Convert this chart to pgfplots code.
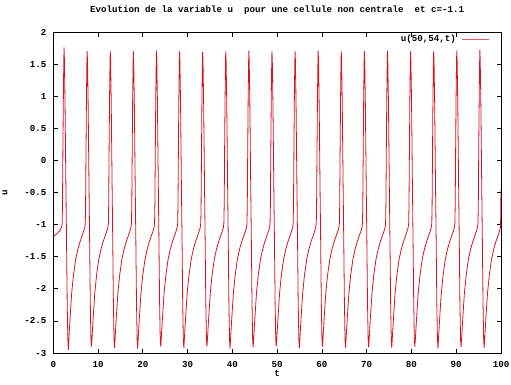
\documentclass[border=0pt]{standalone}
\usepackage{fontspec}
\setmainfont{Liberation Mono}
\usepackage{pgfplots}
\pgfplotsset{compat=1.18}
\definecolor{gpred}{RGB}{215,20,30}
\newcommand{\gpfont}{\fontsize{9.2}{11}\selectfont\bfseries}
\begin{document}
\begin{tikzpicture}[font=\gpfont]
\path[use as bounding box] (-53.3bp,-32bp) rectangle (457.7bp,353bp);
\begin{axis}[
    at={(0,0)}, anchor=south west,
    scale only axis,
    width=447.7bp, height=321bp,
    xmin=0, xmax=100, ymin=-3, ymax=2,
    xtick distance=10, ytick distance=0.5,
    axis line style={line width=0.8bp},
    tick style={black, line width=0.7bp},
    major tick length=4.5bp,
    tick align=inside,
    /pgf/number format/assume math mode=true,
    /pgf/number format/fixed,
    xticklabel style={anchor=center, inner sep=0pt, yshift=-11bp},
    yticklabel style={anchor=east, inner sep=0pt, xshift=-6.6bp},
    title={Evolution de la variable u\ \ pour une cellule non centrale\ \ et c=-1.1},
    title style={at={(rel axis cs:0.5,1)}, anchor=center, inner sep=0pt, yshift=16bp},
    xlabel={t},
    xlabel style={at={(rel axis cs:0.5,0)}, anchor=center, inner sep=0pt, yshift=-20bp},
    ylabel={u},
    ylabel style={at={(rel axis cs:0,0.5)}, anchor=center, inner sep=0pt, yshift=48.3bp},
    legend plot pos=right,
    legend style={draw=none, fill=none, at={(rel axis cs:1,1)}, anchor=north east,
        xshift=-11bp, yshift=-3bp, inner sep=0pt, nodes={inner sep=0pt, anchor=east}},
    legend image code/.code={\path (0bp,0bp); \draw[#1, line width=1.2bp, draw=gpred!70] (6bp,0bp) -- (33bp,0bp);},
]
\addplot[gpred, line width=0.8bp] coordinates {
(0,-1.19) (0.5,-1.16) (1.0,-1.13) (1.5,-1.09) (1.85,-1.04) (1.98,-0.98) (2.05,-0.70) (2.15,0.20) (2.25,1.00) (2.35,1.58) (2.40,1.76) (2.48,1.58) (2.62,0.90) (2.80,-0.30) (2.95,-1.20) (3.10,-2.20) (3.25,-2.80) (3.36,-2.95) (3.50,-2.75) (3.75,-2.45) (4.10,-2.07) (4.50,-1.79) (5.00,-1.54) (5.50,-1.38) (6.00,-1.26) (6.40,-1.18) (6.75,-1.11)
(7.01,-1.05) (7.14,-0.98) (7.21,-0.70) (7.31,0.20) (7.41,1.00) (7.51,1.55) (7.56,1.70) (7.64,1.55) (7.78,0.90) (7.96,-0.30) (8.11,-1.20) (8.26,-2.20) (8.41,-2.80) (8.52,-2.90) (8.66,-2.75) (8.91,-2.45) (9.26,-2.07) (9.66,-1.79) (10.16,-1.54) (10.66,-1.38) (11.16,-1.26) (11.56,-1.18) (11.91,-1.11)
(12.17,-1.05) (12.30,-0.98) (12.37,-0.70) (12.47,0.20) (12.57,1.00) (12.67,1.55) (12.72,1.71) (12.80,1.55) (12.94,0.90) (13.12,-0.30) (13.27,-1.20) (13.42,-2.20) (13.57,-2.80) (13.68,-2.92) (13.82,-2.75) (14.07,-2.45) (14.42,-2.07) (14.82,-1.79) (15.32,-1.54) (15.82,-1.38) (16.32,-1.26) (16.72,-1.18) (17.07,-1.11)
(17.33,-1.05) (17.46,-0.98) (17.53,-0.70) (17.63,0.20) (17.73,1.00) (17.83,1.55) (17.88,1.70) (17.96,1.55) (18.10,0.90) (18.28,-0.30) (18.43,-1.20) (18.58,-2.20) (18.73,-2.80) (18.84,-2.93) (18.98,-2.75) (19.23,-2.45) (19.58,-2.07) (19.98,-1.79) (20.48,-1.54) (20.98,-1.38) (21.48,-1.26) (21.88,-1.18) (22.23,-1.11)
(22.49,-1.05) (22.62,-0.98) (22.69,-0.70) (22.79,0.20) (22.89,1.00) (22.99,1.55) (23.04,1.71) (23.12,1.55) (23.26,0.90) (23.44,-0.30) (23.59,-1.20) (23.74,-2.20) (23.89,-2.80) (24.00,-2.90) (24.14,-2.75) (24.39,-2.45) (24.74,-2.07) (25.14,-1.79) (25.64,-1.54) (26.14,-1.38) (26.64,-1.26) (27.04,-1.18) (27.39,-1.11)
(27.65,-1.05) (27.78,-0.98) (27.85,-0.70) (27.95,0.20) (28.05,1.00) (28.15,1.55) (28.20,1.70) (28.28,1.55) (28.42,0.90) (28.60,-0.30) (28.75,-1.20) (28.90,-2.20) (29.05,-2.80) (29.16,-2.92) (29.30,-2.75) (29.55,-2.45) (29.90,-2.07) (30.30,-1.79) (30.80,-1.54) (31.30,-1.38) (31.80,-1.26) (32.20,-1.18) (32.55,-1.11)
(32.81,-1.05) (32.94,-0.98) (33.01,-0.70) (33.11,0.20) (33.21,1.00) (33.31,1.55) (33.36,1.69) (33.44,1.55) (33.58,0.90) (33.76,-0.30) (33.91,-1.20) (34.06,-2.20) (34.21,-2.80) (34.32,-2.90) (34.46,-2.75) (34.71,-2.45) (35.06,-2.07) (35.46,-1.79) (35.96,-1.54) (36.46,-1.38) (36.96,-1.26) (37.36,-1.18) (37.71,-1.11)
(37.97,-1.05) (38.10,-0.98) (38.17,-0.70) (38.27,0.20) (38.37,1.00) (38.47,1.55) (38.52,1.70) (38.60,1.55) (38.74,0.90) (38.92,-0.30) (39.07,-1.20) (39.22,-2.20) (39.37,-2.80) (39.48,-2.93) (39.62,-2.75) (39.87,-2.45) (40.22,-2.07) (40.62,-1.79) (41.12,-1.54) (41.62,-1.38) (42.12,-1.26) (42.52,-1.18) (42.87,-1.11)
(43.13,-1.05) (43.26,-0.98) (43.33,-0.70) (43.43,0.20) (43.53,1.00) (43.63,1.55) (43.68,1.71) (43.76,1.55) (43.90,0.90) (44.08,-0.30) (44.23,-1.20) (44.38,-2.20) (44.53,-2.80) (44.64,-2.91) (44.78,-2.75) (45.03,-2.45) (45.38,-2.07) (45.78,-1.79) (46.28,-1.54) (46.78,-1.38) (47.28,-1.26) (47.68,-1.18) (48.03,-1.11)
(48.29,-1.05) (48.42,-0.98) (48.49,-0.70) (48.59,0.20) (48.69,1.00) (48.79,1.55) (48.84,1.70) (48.92,1.55) (49.06,0.90) (49.24,-0.30) (49.39,-1.20) (49.54,-2.20) (49.69,-2.80) (49.80,-2.90) (49.94,-2.75) (50.19,-2.45) (50.54,-2.07) (50.94,-1.79) (51.44,-1.54) (51.94,-1.38) (52.44,-1.26) (52.84,-1.18) (53.19,-1.11)
(53.45,-1.05) (53.58,-0.98) (53.65,-0.70) (53.75,0.20) (53.85,1.00) (53.95,1.55) (54.00,1.70) (54.08,1.55) (54.22,0.90) (54.40,-0.30) (54.55,-1.20) (54.70,-2.20) (54.85,-2.80) (54.96,-2.92) (55.10,-2.75) (55.35,-2.45) (55.70,-2.07) (56.10,-1.79) (56.60,-1.54) (57.10,-1.38) (57.60,-1.26) (58.00,-1.18) (58.35,-1.11)
(58.61,-1.05) (58.74,-0.98) (58.81,-0.70) (58.91,0.20) (59.01,1.00) (59.11,1.55) (59.16,1.71) (59.24,1.55) (59.38,0.90) (59.56,-0.30) (59.71,-1.20) (59.86,-2.20) (60.01,-2.80) (60.12,-2.90) (60.26,-2.75) (60.51,-2.45) (60.86,-2.07) (61.26,-1.79) (61.76,-1.54) (62.26,-1.38) (62.76,-1.26) (63.16,-1.18) (63.51,-1.11)
(63.77,-1.05) (63.90,-0.98) (63.97,-0.70) (64.07,0.20) (64.17,1.00) (64.27,1.55) (64.32,1.70) (64.40,1.55) (64.54,0.90) (64.72,-0.30) (64.87,-1.20) (65.02,-2.20) (65.17,-2.80) (65.28,-2.92) (65.42,-2.75) (65.67,-2.45) (66.02,-2.07) (66.42,-1.79) (66.92,-1.54) (67.42,-1.38) (67.92,-1.26) (68.32,-1.18) (68.67,-1.11)
(68.93,-1.05) (69.06,-0.98) (69.13,-0.70) (69.23,0.20) (69.33,1.00) (69.43,1.55) (69.48,1.70) (69.56,1.55) (69.70,0.90) (69.88,-0.30) (70.03,-1.20) (70.18,-2.20) (70.33,-2.80) (70.44,-2.91) (70.58,-2.75) (70.83,-2.45) (71.18,-2.07) (71.58,-1.79) (72.08,-1.54) (72.58,-1.38) (73.08,-1.26) (73.48,-1.18) (73.83,-1.11)
(74.09,-1.05) (74.22,-0.98) (74.29,-0.70) (74.39,0.20) (74.49,1.00) (74.59,1.55) (74.64,1.71) (74.72,1.55) (74.86,0.90) (75.04,-0.30) (75.19,-1.20) (75.34,-2.20) (75.49,-2.80) (75.60,-2.92) (75.74,-2.75) (75.99,-2.45) (76.34,-2.07) (76.74,-1.79) (77.24,-1.54) (77.74,-1.38) (78.24,-1.26) (78.64,-1.18) (78.99,-1.11)
(79.25,-1.05) (79.38,-0.98) (79.45,-0.70) (79.55,0.20) (79.65,1.00) (79.75,1.55) (79.80,1.70) (79.88,1.55) (80.02,0.90) (80.20,-0.30) (80.35,-1.20) (80.50,-2.20) (80.65,-2.80) (80.76,-2.90) (80.90,-2.75) (81.15,-2.45) (81.50,-2.07) (81.90,-1.79) (82.40,-1.54) (82.90,-1.38) (83.40,-1.26) (83.80,-1.18) (84.15,-1.11)
(84.41,-1.05) (84.54,-0.98) (84.61,-0.70) (84.71,0.20) (84.81,1.00) (84.91,1.55) (84.96,1.70) (85.04,1.55) (85.18,0.90) (85.36,-0.30) (85.51,-1.20) (85.66,-2.20) (85.81,-2.80) (85.92,-2.93) (86.06,-2.75) (86.31,-2.45) (86.66,-2.07) (87.06,-1.79) (87.56,-1.54) (88.06,-1.38) (88.56,-1.26) (88.96,-1.18) (89.31,-1.11)
(89.57,-1.05) (89.70,-0.98) (89.77,-0.70) (89.87,0.20) (89.97,1.00) (90.07,1.55) (90.12,1.71) (90.20,1.55) (90.34,0.90) (90.52,-0.30) (90.67,-1.20) (90.82,-2.20) (90.97,-2.80) (91.08,-2.91) (91.22,-2.75) (91.47,-2.45) (91.82,-2.07) (92.22,-1.79) (92.72,-1.54) (93.22,-1.38) (93.72,-1.26) (94.12,-1.18) (94.47,-1.11)
(94.73,-1.05) (94.86,-0.98) (94.93,-0.70) (95.03,0.20) (95.13,1.00) (95.23,1.55) (95.28,1.72) (95.36,1.55) (95.50,0.90) (95.68,-0.30) (95.83,-1.20) (95.98,-2.20) (96.13,-2.80) (96.24,-2.92) (96.38,-2.75) (96.63,-2.45) (96.98,-2.07) (97.38,-1.79) (97.88,-1.54) (98.38,-1.38) (98.88,-1.26) (99.28,-1.18) (99.63,-1.11)
(99.90,-1.04) (100.0,-0.45)
};
\addlegendentry{u(50,54,t)}
\end{axis}
\end{tikzpicture}
\end{document}
